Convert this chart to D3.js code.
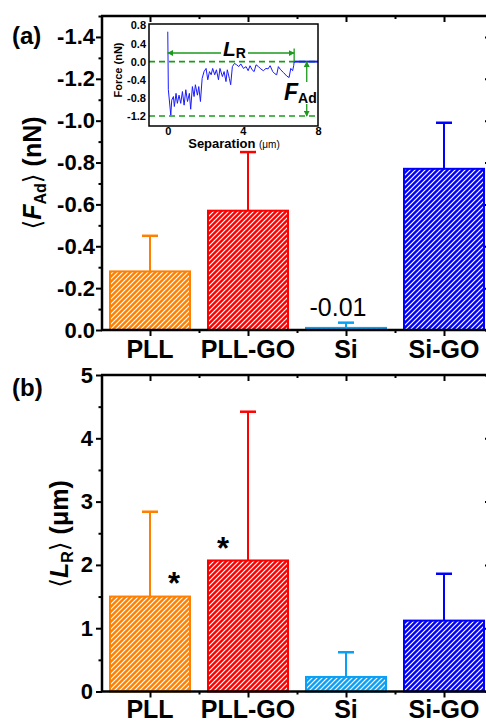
<!DOCTYPE html>
<html><head><meta charset="utf-8">
<script src="https://cdn.jsdelivr.net/npm/d3@7/dist/d3.min.js"></script>
<style>
body{margin:0;background:#fff;}
svg{display:block;font-family:"Liberation Sans",Arial,sans-serif;}
</style></head>
<body><svg id="c" width="486" height="724"></svg>
<script>
// ---------- data ----------
const categories = ["PLL", "PLL-GO", "Si", "Si-GO"];
const barColors = ["#FF8000", "#FF0000", "#0AA0F5", "#0000FF"];
const adhesion = [-0.28, -0.57, -0.01, -0.77];      // <F_Ad> (nN)
const adhesionErr = [0.17, 0.28, 0.025, 0.22];      // upward error magnitude
const rupture = [1.50, 2.07, 0.23, 1.12];           // <L_R> (um)
const ruptureErr = [1.34, 2.35, 0.39, 0.74];
const adhesionTicks = [0, -0.2, -0.4, -0.6, -0.8, -1.0, -1.2, -1.4];
const adhesionTickLabels = ["0.0", "-0.2", "-0.4", "-0.6", "-0.8", "-1.0", "-1.2", "-1.4"];
const adhesionMinor = [-0.1, -0.3, -0.5, -0.7, -0.9, -1.1, -1.3, -1.5];
const ruptureTicks = [0, 1, 2, 3, 4, 5];
const ruptureTickLabels = ["0", "1", "2", "3", "4", "5"];
const ruptureMinor = [0.5, 1.5, 2.5, 3.5, 4.5];
const significant = ["PLL", "PLL-GO"];
// inset force curve
const sepValues = [0.00,0.03,0.16,0.21,0.30,0.35,0.44,0.51,0.60,0.69,0.78,0.87,0.96,1.05,1.15,1.22,1.31,1.40,1.47,1.58,1.65,1.74,1.83,1.93,2.04,2.13,2.22,2.31,2.39,2.50,2.59,2.70,2.78,2.91,3.00,3.10,3.17,3.28,3.35,3.44,3.55,3.67,3.78,3.89,4.03,4.17,4.28,4.38,4.49,4.60,4.70,4.83,4.95,5.09,5.23,5.34,5.45,5.59,5.71,5.80,5.89,6.01,6.16,6.34,6.46,6.55,6.65,6.71,6.73];
const forceValues = [0.66,-0.62,-1.18,-0.85,-0.77,-0.99,-0.70,-0.92,-0.74,-0.92,-0.66,-0.96,-0.62,-0.88,-0.70,-1.05,-0.55,-0.77,-0.51,-0.74,-0.55,-0.88,-0.37,-0.22,-0.15,-0.40,-0.22,-0.29,-0.15,-0.29,-0.18,-0.40,-0.15,-0.33,-0.22,-0.44,-0.18,-0.37,-0.51,-0.11,-0.04,-0.07,-0.11,-0.05,-0.15,-0.11,-0.20,-0.09,-0.18,-0.22,-0.07,-0.11,-0.16,-0.20,-0.15,-0.16,-0.09,-0.22,-0.27,-0.29,-0.11,-0.18,-0.24,-0.32,-0.35,-0.15,-0.20,-0.08,0.00];
const flatSep = [6.73, 8];
const flatForce = [0, 0];
const insetYTicks = [-1.2, -0.8, -0.4, 0, 0.4, 0.8];
const insetYTickLabels = ["-1.2", "-0.8", "-0.4", "0.0", "0.4", "0.8"];
const insetXTicks = [0, 4, 8];
const ruptureLengthEnd = 6.73;
const adhesionMarkerSep = 7.4;
const lrArrowForce = 0.19;
const adhesionLevel = -1.2;

// ---------- drawing ----------
const svg = d3.select("#c");
const FONT = '"Liberation Sans",Arial,sans-serif';
const defs = svg.append("defs");
barColors.forEach((c, i) => {
  const p = defs.append("pattern").attr("id", "hatch" + i)
    .attr("patternUnits", "userSpaceOnUse").attr("width", 5).attr("height", 5);
  p.append("rect").attr("width", 5).attr("height", 5).attr("fill", c);
  p.append("path").attr("d", "M-1,1 L1,-1 M0,5 L5,0 M4,6 L6,4")
    .attr("stroke", "#fff").attr("stroke-width", 1.2);
});
defs.append("marker").attr("id", "arrG").attr("viewBox", "0 0 10 10")
  .attr("refX", 9).attr("refY", 5).attr("markerWidth", 6).attr("markerHeight", 6)
  .attr("markerUnits", "userSpaceOnUse")
  .attr("orient", "auto-start-reverse")
  .append("path").attr("d", "M0,0 L10,5 L0,10 z").attr("fill", "#1c9a1c");

const x = d3.scaleLinear().domain([0.5, 4.5]).range([101, 493]);
const bw = 80;

function panel(opts) {
  const { y, values, errs, ticks, tickLabels, minor, top, bottom, labelBaseline, tickEnd, sign } = opts;
  const g = svg.append("g");
  // frame
  g.append("line").attr("x1", 101).attr("x2", 493).attr("y1", top).attr("y2", top)
    .attr("stroke", "#000").attr("stroke-width", 2.5);
  g.append("line").attr("x1", 491).attr("x2", 491).attr("y1", top).attr("y2", bottom)
    .attr("stroke", "#000").attr("stroke-width", 2.5);
  // right ticks inward
  const ra = g.append("g").attr("transform", "translate(491,0)")
    .call(d3.axisLeft(y).tickValues(ticks).tickSize(6).tickSizeOuter(0).tickFormat(""));
  ra.select(".domain").remove();
  ra.selectAll("line").attr("stroke-width", 2).attr("x2", -6);
  // top ticks inward
  const ta = g.append("g").attr("transform", `translate(0,${top})`)
    .call(d3.axisBottom(x).tickValues([1, 2, 3, 4]).tickSize(6).tickSizeOuter(0).tickFormat(""));
  ta.select(".domain").remove();
  ta.selectAll("line").attr("stroke-width", 2);
  const tm = g.append("g").attr("transform", `translate(0,${top})`)
    .call(d3.axisBottom(x).tickValues([1.5, 2.5, 3.5]).tickSize(3).tickSizeOuter(0).tickFormat(""));
  tm.select(".domain").remove();
  tm.selectAll("line").attr("stroke-width", 2);

  // bars
  values.forEach((v, i) => {
    const y0 = y(0), y1 = y(v);
    g.append("rect").attr("x", x(i + 1) - bw / 2).attr("y", Math.min(y0, y1))
      .attr("width", bw).attr("height", Math.max(1, Math.abs(y0 - y1)))
      .attr("fill", `url(#hatch${i})`).attr("stroke", barColors[i]).attr("stroke-width", 2);
    const ye = y(v + sign * errs[i]);
    g.append("line").attr("x1", x(i + 1)).attr("x2", x(i + 1)).attr("y1", y1).attr("y2", ye)
      .attr("stroke", barColors[i]).attr("stroke-width", 2);
    g.append("line").attr("x1", x(i + 1) - 8).attr("x2", x(i + 1) + 8).attr("y1", ye).attr("y2", ye)
      .attr("stroke", barColors[i]).attr("stroke-width", 2.5);
  });

  // left axis
  const la = g.append("g").attr("transform", "translate(102,0)")
    .call(d3.axisLeft(y).tickValues(ticks).tickSize(6).tickSizeOuter(0).tickPadding(2)
      .tickFormat((d, i) => tickLabels[i]));
  la.select(".domain").attr("stroke-width", 2.5).attr("d", `M0,${bottom}V${top}`);
  la.selectAll("line").attr("stroke-width", 2);
  la.selectAll("text").attr("font-family", FONT).attr("font-size", 22).attr("font-weight", "bold")
    .attr("fill", "#000").attr("x", tickEnd - 102);
  const lm = g.append("g").attr("transform", "translate(102,0)")
    .call(d3.axisLeft(y).tickValues(minor).tickSize(3.5).tickSizeOuter(0).tickFormat(""));
  lm.select(".domain").remove();
  lm.selectAll("line").attr("stroke-width", 2);

  // bottom axis
  const ba = g.append("g").attr("transform", `translate(0,${bottom})`)
    .call(d3.axisBottom(x).tickValues([1, 2, 3, 4]).tickSize(6).tickSizeOuter(0).tickFormat(""));
  ba.select(".domain").attr("stroke-width", 2.5).attr("d", "M101,0H493");
  ba.selectAll("line").attr("stroke-width", 2);
  const bm = g.append("g").attr("transform", `translate(0,${bottom})`)
    .call(d3.axisBottom(x).tickValues([1.5, 2.5, 3.5]).tickSize(3).tickSizeOuter(0).tickFormat(""));
  bm.select(".domain").remove();
  bm.selectAll("line").attr("stroke-width", 2);

  categories.forEach((c, i) => {
    g.append("text").attr("x", x(i + 1)).attr("y", labelBaseline).attr("text-anchor", "middle")
      .attr("font-size", 25).attr("font-weight", "bold").text(c);
  });
  return g;
}

// Panel (a)
const ya = d3.scaleLinear().domain([0, -1.5]).range([330, 16]);
panel({ y: ya, values: adhesion, errs: adhesionErr, ticks: adhesionTicks, tickLabels: adhesionTickLabels,
  minor: adhesionMinor, top: 16, bottom: 330, labelBaseline: 358, tickEnd: 95, sign: -1 });

// Panel (b)
const yb = d3.scaleLinear().domain([0, 5]).range([691.5, 375]);
panel({ y: yb, values: rupture, errs: ruptureErr, ticks: ruptureTicks, tickLabels: ruptureTickLabels,
  minor: ruptureMinor, top: 375, bottom: 691.5, labelBaseline: 718, tickEnd: 93, sign: 1 });

// value label on Si in (a)
svg.append("text").attr("x", x(3) - 8).attr("y", 316).attr("text-anchor", "middle")
  .attr("font-size", 25).attr("fill", "#000").text(d3.format(".2f")(adhesion[2]).replace("−", "-"));

// significance asterisks in (b)
significant.forEach(name => {
  const i = categories.indexOf(name);
  const xs = i === 0 ? x(i + 1) + 24 : x(i + 1) - 25;
  svg.append("text").attr("x", xs).attr("y", i === 0 ? 594 : 559).attr("text-anchor", "middle")
    .attr("font-size", 31).attr("font-weight", "bold").text("*");
});

// panel labels
svg.append("text").attr("x", 12).attr("y", 44).attr("font-size", 24).attr("font-weight", "bold").text("(a)");
svg.append("text").attr("x", 12).attr("y", 396).attr("font-size", 24).attr("font-weight", "bold").text("(b)");

// y titles
const ta1 = svg.append("text").attr("transform", "translate(41,173) rotate(-90)")
  .attr("text-anchor", "middle").attr("font-size", 25).attr("font-weight", "bold");
ta1.append("tspan").attr("font-weight", "normal").attr("font-family", "DejaVu Sans").text("⟨");
ta1.append("tspan").attr("font-style", "italic").text("F");
ta1.append("tspan").attr("font-size", 16).attr("dy", 5).text("Ad");
ta1.append("tspan").attr("dy", -5).attr("font-weight", "normal").attr("font-family", "DejaVu Sans").text("⟩");
ta1.append("tspan").text(" (nN)");

const tb1 = svg.append("text").attr("transform", "translate(68,534) rotate(-90)")
  .attr("text-anchor", "middle").attr("font-size", 25).attr("font-weight", "bold");
tb1.append("tspan").attr("font-weight", "normal").attr("font-family", "DejaVu Sans").text("⟨");
tb1.append("tspan").attr("font-style", "italic").text("L");
tb1.append("tspan").attr("font-size", 16).attr("dy", 5).text("R");
tb1.append("tspan").attr("dy", -5).attr("font-weight", "normal").attr("font-family", "DejaVu Sans").text("⟩");
tb1.append("tspan").text(" (μm)");

// ---------- inset ----------
const ix = d3.scaleLinear().domain([-1, 8]).range([149, 318]);
const iy = d3.scaleLinear().domain([-1.42, 0.83]).range([126, 24]);
const ins = svg.append("g");
ins.append("rect").attr("x", 149).attr("y", 24).attr("width", 169).attr("height", 102)
  .attr("fill", "#fff");
// dashed reference lines
[0, adhesionLevel].forEach(v => {
  ins.append("line").attr("x1", ix(-1)).attr("x2", ix(8)).attr("y1", iy(v)).attr("y2", iy(v))
    .attr("stroke", "#1c9a1c").attr("stroke-width", 1.6).attr("stroke-dasharray", "6,4");
});
const line = d3.line().x(d => ix(d[0])).y(d => iy(d[1]));
ins.append("path").datum(sepValues.map((s, i) => [s, forceValues[i]])).attr("d", line)
  .attr("fill", "none").attr("stroke", "#1a1aff").attr("stroke-width", 1);
ins.append("path").datum(flatSep.map((s, i) => [s, flatForce[i]])).attr("d", line)
  .attr("fill", "none").attr("stroke", "#1a1aff").attr("stroke-width", 2);
// L_R arrow
ins.append("line").attr("x1", ix(0)).attr("x2", ix(ruptureLengthEnd)).attr("y1", iy(lrArrowForce)).attr("y2", iy(lrArrowForce))
  .attr("stroke", "#1c9a1c").attr("stroke-width", 1.3)
  .attr("marker-start", "url(#arrG)").attr("marker-end", "url(#arrG)");
ins.append("line").attr("x1", ix(ruptureLengthEnd)).attr("x2", ix(ruptureLengthEnd)).attr("y1", iy(0.29)).attr("y2", iy(0))
  .attr("stroke", "#1c9a1c").attr("stroke-width", 1.3);
// F_Ad arrow
ins.append("line").attr("x1", ix(adhesionMarkerSep)).attr("x2", ix(adhesionMarkerSep)).attr("y1", iy(0)).attr("y2", iy(adhesionLevel))
  .attr("stroke", "#1c9a1c").attr("stroke-width", 1.3)
  .attr("marker-start", "url(#arrG)").attr("marker-end", "url(#arrG)");
// labels with white backing
ins.append("rect").attr("x", 221).attr("y", 40).attr("width", 27).attr("height", 20).attr("fill", "#fff");
const lr = ins.append("text").attr("x", 223).attr("y", 56).attr("font-size", 21).attr("font-weight", "bold");
lr.append("tspan").attr("font-style", "italic").text("L");
lr.append("tspan").attr("font-size", 14).attr("dy", 2).text("R");
ins.append("rect").attr("x", 284).attr("y", 82).attr("width", 32).attr("height", 22).attr("fill", "#fff");
const fa = ins.append("text").attr("x", 284).attr("y", 100).attr("font-size", 23).attr("font-weight", "bold");
fa.append("tspan").attr("font-style", "italic").text("F");
fa.append("tspan").attr("font-size", 14).attr("dy", 3).text("Ad");
// inset box
ins.append("rect").attr("x", 149).attr("y", 24).attr("width", 169).attr("height", 102)
  .attr("fill", "none").attr("stroke", "#000").attr("stroke-width", 1.5);
// inset axes
const iya = ins.append("g").attr("transform", "translate(149,0)")
  .call(d3.axisLeft(iy).tickValues(insetYTicks).tickSize(0).tickPadding(3)
    .tickFormat((d, i) => insetYTickLabels[i]));
iya.select(".domain").remove();
iya.selectAll("text").attr("font-family", FONT).attr("font-size", 11).attr("font-weight", "bold").attr("fill", "#000");
const ixa = ins.append("g").attr("transform", "translate(0,125)")
  .call(d3.axisBottom(ix).tickValues(insetXTicks).tickSize(0).tickPadding(2).tickFormat(d3.format("d")));
ixa.select(".domain").remove();
ixa.selectAll("text").attr("font-family", FONT).attr("font-size", 11).attr("font-weight", "bold").attr("fill", "#000");
const sx = ins.append("text").attr("x", 234).attr("y", 148).attr("text-anchor", "middle")
  .attr("font-size", 13).attr("font-weight", "bold");
sx.append("tspan").text("Separation ");
sx.append("tspan").attr("font-size", 10).attr("font-weight", "normal").text("(μm)");
ins.append("text").attr("transform", "translate(122,70) rotate(-90)").attr("text-anchor", "middle")
  .attr("font-size", 11).attr("font-weight", "bold").text("Force (nN)");
</script></body></html>
